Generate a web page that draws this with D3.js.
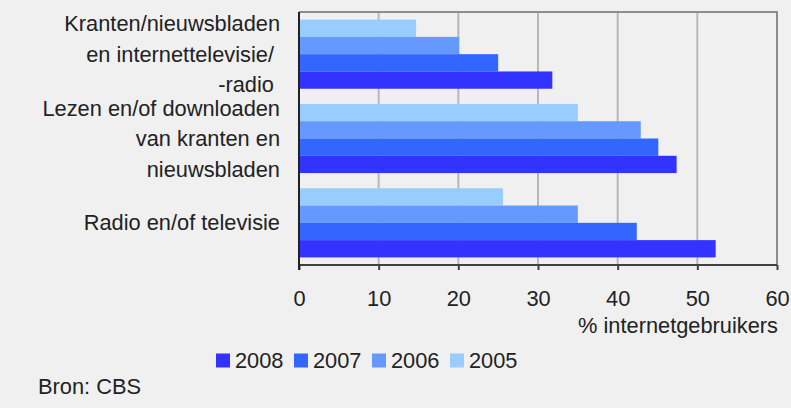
<!DOCTYPE html>
<html>
<head>
<meta charset="utf-8">
<script src="https://cdn.jsdelivr.net/npm/d3@7"></script>
<style>
  body { margin: 0; background: #f0f0f0; }
  svg { display: block; font-family: "Liberation Sans", Arial, sans-serif; }
</style>
</head>
<body>
<svg></svg>
<script>
// categories (top to bottom), each label split over lines
var categories = ["Kranten", "Lezen", "Radio"];
var catLines = [
    ["Kranten/nieuwsbladen", "en internettelevisie/\u00a0", "-radio\u00a0"],
    ["Lezen en/of downloaden", "van kranten en", "nieuwsbladen"],
    ["Radio en/of televisie"]
];
var years = ["2005", "2006", "2007", "2008"];
var v2005 = [14.7, 35.0, 25.6];
var v2006 = [20.1, 42.9, 35.0];
var v2007 = [25.0, 45.1, 42.4];
var v2008 = [31.8, 47.4, 52.3];
var xTicks = [0, 10, 20, 30, 40, 50, 60];
var legendOrder = ["2008", "2007", "2006", "2005"];

var series = {"2005": v2005, "2006": v2006, "2007": v2007, "2008": v2008};

var width = 791, height = 408;
var padLeft = 299, padRight = 777, padTop = 12, padBottom = 265;
var fs = 21.8;

var colorScale = d3.scaleOrdinal()
    .domain(years)
    .range(["#99ccff", "#6699ff", "#3366ff", "#3333ff"]);

var xScale = d3.scaleLinear().domain([0, 60]).range([padLeft, padRight]);
var yScale = d3.scaleBand().domain(categories).range([padTop, padBottom]).paddingInner(0.18).paddingOuter(0.09);
var ySub = d3.scaleBand().domain(years).range([0, yScale.bandwidth()]);

var svg = d3.select("svg").attr("width", width).attr("height", height);

// gridlines
svg.append("g")
    .selectAll("line")
    .data(xTicks.filter(d => d > 0 && d < 60))
    .enter().append("line")
    .attr("x1", d => xScale(d)).attr("x2", d => xScale(d))
    .attr("y1", padTop).attr("y2", padBottom)
    .attr("stroke", "#b8b8b8").attr("stroke-width", 2);

// bars
categories.forEach(function(c, i) {
    svg.append("g")
        .attr("transform", "translate(0," + yScale(c) + ")")
        .selectAll("rect")
        .data(years)
        .enter().append("rect")
        .attr("x", xScale(0))
        .attr("y", d => ySub(d))
        .attr("width", d => xScale(series[d][i]) - xScale(0))
        .attr("height", ySub.bandwidth())
        .attr("fill", d => colorScale(d));
});

// frame top/right
svg.append("path")
    .attr("d", "M" + padLeft + "," + padTop + "H" + padRight + "V" + padBottom)
    .attr("fill", "none").attr("stroke", "#8c8c8c").attr("stroke-width", 2);

// x axis
var xAxis = d3.axisBottom(xScale).tickValues(xTicks).tickSize(5).tickPadding(21);
var gx = svg.append("g")
    .attr("transform", "translate(0," + padBottom + ")")
    .call(xAxis);
gx.select(".domain").attr("stroke", "#404040").attr("stroke-width", 2).attr("d", "M" + padLeft + ",0H" + padRight);
gx.selectAll(".tick line").attr("stroke", "#404040").attr("stroke-width", 2);
gx.selectAll(".tick text").attr("font-size", fs).attr("fill", "#222").attr("font-family", "Liberation Sans, Arial, sans-serif");

// y axis line
svg.append("line")
    .attr("x1", padLeft).attr("x2", padLeft).attr("y1", padTop).attr("y2", padBottom + 5)
    .attr("stroke", "#222").attr("stroke-width", 2);

// category labels
var lineH = 30.5;
categories.forEach(function(c, i) {
    var lines = catLines[i];
    var cy = yScale(c) + yScale.bandwidth() / 2;
    var y0 = cy - (lines.length - 1) * lineH / 2;
    svg.append("text")
        .attr("text-anchor", "end")
        .attr("font-size", fs)
        .attr("fill", "#222")
        .selectAll("tspan")
        .data(lines)
        .enter().append("tspan")
        .attr("x", 280)
        .attr("y", (d, j) => y0 + j * lineH)
        .attr("dy", "0.35em")
        .text(d => d);
});

// axis title
svg.append("text")
    .attr("x", padRight + 1).attr("y", 325).attr("dy", "0.35em")
    .attr("text-anchor", "end").attr("font-size", fs).attr("fill", "#222")
    .text("% internetgebruikers");

// legend
var legend = svg.append("g").attr("transform", "translate(216,360)");
var item = legend.selectAll("g")
    .data(legendOrder)
    .enter().append("g")
    .attr("transform", (d, i) => "translate(" + (i * 78) + ",0)");
item.append("rect")
    .attr("x", 0).attr("y", -6.5).attr("width", 14).attr("height", 14)
    .attr("fill", d => colorScale(d));
item.append("text")
    .attr("x", 19).attr("dy", "0.35em")
    .attr("font-size", fs).attr("fill", "#222")
    .text(d => d);

// source
svg.append("text")
    .attr("x", 38).attr("y", 386).attr("dy", "0.35em")
    .attr("font-size", fs).attr("fill", "#222")
    .text("Bron: CBS");
</script>
</body>
</html>
